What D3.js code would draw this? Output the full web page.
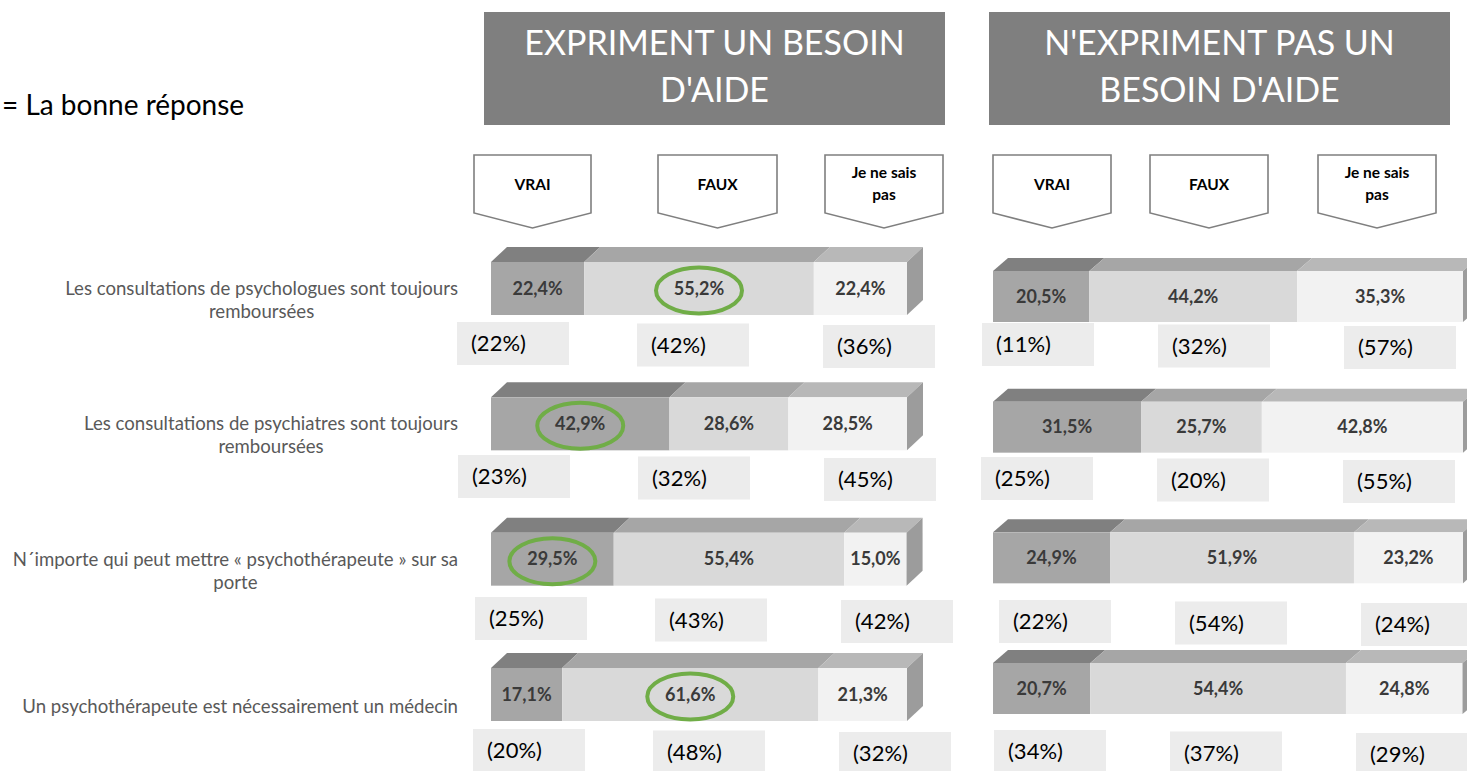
<!DOCTYPE html>
<html>
<head>
<meta charset="utf-8">
<script src="https://cdn.jsdelivr.net/npm/d3@7/dist/d3.min.js"></script>
<style>
  html, body { margin: 0; padding: 0; background: #ffffff; }
  svg { display: block; }
</style>
</head>
<body>
<svg id="chart" width="1467" height="771"></svg>
<script>
// ---- Data ----------------------------------------------------------------
const groups = [
  ["EXPRIMENT UN BESOIN", "D'AIDE"],
  ["N'EXPRIMENT PAS UN", "BESOIN D'AIDE"]
];
const answers = ["VRAI", "FAUX", "Je ne sais pas"];
const questions = [
  ["Les consultations de psychologues sont toujours", "remboursées"],
  ["Les consultations de psychiatres sont toujours", "remboursées"],
  ["N´importe qui peut mettre « psychothérapeute » sur sa", "porte"],
  ["Un psychothérapeute est nécessairement un médecin"]
];
// index into answers of the correct response for each statement
const correctAnswer = [1, 0, 0, 1];

// shares (%) among respondents who express a need for help
const withNeed = [
  [22.4, 55.2, 22.4],
  [42.9, 28.6, 28.5],
  [29.5, 55.4, 15.0],
  [17.1, 61.6, 21.3]
];
// shares (%) among respondents who do not express a need for help
const withoutNeed = [
  [20.5, 44.2, 35.3],
  [31.5, 25.7, 42.8],
  [24.9, 51.9, 23.2],
  [20.7, 54.4, 24.8]
];
// figures shown in brackets under each bar
const withNeedRef = [
  [22, 42, 36],
  [23, 32, 45],
  [25, 43, 42],
  [20, 48, 32]
];
const withoutNeedRef = [
  [11, 32, 57],
  [25, 20, 55],
  [22, 54, 24],
  [34, 37, 29]
];
const legendText = "= La bonne réponse";

// ---- Layout --------------------------------------------------------------
const FONT = "Lato, 'Open Sans', sans-serif";
const panels = [
  {
    values: withNeed, refs: withNeedRef, circled: true,
    header: [484, 12, 461, 113],
    arrows: [[474, 591], [658, 777], [825, 943]],
    barX: [491, 907], rowY: [262, 668], barH: 53, dx: 16, dy: 15,
    boxX: [457, 637, 823], boxShift: [0, 1, 18, 16], boxY: [322, 455, 597, 729]
  },
  {
    values: withoutNeed, refs: withoutNeedRef, circled: false,
    header: [989, 12, 461, 113],
    arrows: [[993, 1111], [1150, 1268], [1318, 1436]],
    barX: [993, 1463], rowY: [271, 663], barH: 51, dx: 15, dy: 13,
    boxX: [982, 1158, 1344], boxShift: [0, -1, 17, 12], boxY: [323, 457, 600, 730]
  }
];
const frontFill = ["#a6a6a6", "#d9d9d9", "#f2f2f2"];
const topFill = ["#808080", "#a6a6a6", "#b8b8b8"];
const sideFill = "#9c9c9c";
const fmt = v => d3.format(".1f")(v).replace(".", ",") + "%";

const svg = d3.select("#chart");

// legend
svg.append("text")
  .attr("x", 2).attr("y", 115)
  .attr("font-family", FONT).attr("font-size", 28)
  .attr("fill", "#000")
  .text(legendText);

// statement labels (right edge aligned, lines centred on the first line)
const labelY = d3.scaleLinear().domain([0, questions.length - 1]).range([262 + 26.5, 668 + 26.5]);
questions.forEach((lines, i) => {
  const g = svg.append("g");
  const lh = 23;
  const blockCenter = labelY(i) + 12;
  const firstBase = blockCenter - (lines.length - 1) * lh / 2 + 6;
  const t0 = g.append("text")
    .attr("x", 458).attr("y", firstBase)
    .attr("text-anchor", "end")
    .attr("font-family", FONT).attr("font-size", 18.6)
    .attr("fill", "#595959")
    .text(lines[0]);
  const w0 = t0.node().getComputedTextLength();
  const cx = 458 - w0 / 2;
  lines.slice(1).forEach((ln, k) => {
    g.append("text")
      .attr("x", cx).attr("y", firstBase + (k + 1) * lh)
      .attr("text-anchor", "middle")
      .attr("font-family", FONT).attr("font-size", 18.6)
      .attr("fill", "#595959")
      .text(ln);
  });
});

panels.forEach((p, pi) => {
  const g = svg.append("g");

  // group header
  const [hx, hy, hw, hh] = p.header;
  g.append("rect").attr("x", hx).attr("y", hy).attr("width", hw).attr("height", hh)
    .attr("fill", "#7f7f7f");
  groups[pi].forEach((ln, k) => {
    g.append("text")
      .attr("x", hx + hw / 2).attr("y", 55 + k * 47)
      .attr("text-anchor", "middle")
      .attr("font-family", FONT).attr("font-size", 34)
      .attr("fill", "#ffffff")
      .text(ln);
  });

  // answer arrows
  answers.forEach((a, j) => {
    const [l, r] = p.arrows[j];
    const m = (l + r) / 2;
    g.append("path")
      .attr("d", `M${l},155 L${r},155 L${r},213 L${m},228 L${l},213 Z`)
      .attr("fill", "#ffffff").attr("stroke", "#7f7f7f").attr("stroke-width", 1.6);
    const words = a === "Je ne sais pas" ? ["Je ne sais", "pas"] : [a];
    words.forEach((w, k) => {
      g.append("text")
        .attr("x", m).attr("y", words.length === 1 ? 190 : 178 + k * 22)
        .attr("text-anchor", "middle")
        .attr("font-family", FONT).attr("font-size", 15.5).attr("font-weight", "bold")
        .attr("fill", "#000")
        .text(w);
    });
  });

  // stacked 3D bars
  const x = d3.scaleLinear().domain([0, 100]).range(p.barX);
  const y = d3.scaleLinear().domain([0, questions.length - 1]).range(p.rowY);
  const { dx, dy, barH } = p;

  p.values.forEach((row, i) => {
    const top = y(i);
    const ends = Array.from(d3.cumsum(row));
    const starts = [0, ...ends.slice(0, -1)];
    const bg = g.append("g");
    row.forEach((v, j) => {
      const x0 = x(starts[j]), x1 = x(ends[j]);
      // top face
      bg.append("path")
        .attr("d", `M${x0},${top} L${x0 + dx},${top - dy} L${x1 + dx},${top - dy} L${x1},${top} Z`)
        .attr("fill", topFill[j]);
      // front face
      bg.append("rect")
        .attr("x", x0).attr("y", top).attr("width", x1 - x0).attr("height", barH)
        .attr("fill", frontFill[j]);
    });
    // right side face
    const xe = x(ends[ends.length - 1]);
    bg.append("path")
      .attr("d", `M${xe},${top} L${xe + dx},${top - dy} L${xe + dx},${top + barH - dy} L${xe},${top + barH} Z`)
      .attr("fill", sideFill);

    // value labels
    row.forEach((v, j) => {
      const cx = (x(starts[j]) + x(ends[j])) / 2;
      const cy = top + barH / 2;
      bg.append("text")
        .attr("x", cx).attr("y", cy + 6)
        .attr("text-anchor", "middle")
        .attr("font-family", FONT).attr("font-size", 18).attr("font-weight", "bold")
        .attr("fill", "#3a3a3a")
        .text(fmt(v));
      if (p.circled && correctAnswer[i] === j) {
        bg.append("ellipse")
          .attr("cx", cx).attr("cy", cy + 2)
          .attr("rx", 43).attr("ry", 23)
          .attr("fill", "none").attr("stroke", "#70ad47").attr("stroke-width", 4);
      }
    });

    // bracketed reference figures
    p.refs[i].forEach((v, j) => {
      const bx = p.boxX[j] + p.boxShift[i];
      const by = p.boxY[i] + j * 1.5;
      bg.append("rect")
        .attr("x", bx).attr("y", by).attr("width", 112).attr("height", 43)
        .attr("fill", "#ececec");
      bg.append("text")
        .attr("x", bx + 14).attr("y", by + 29)
        .attr("font-family", FONT).attr("font-size", 22)
        .attr("fill", "#000")
        .text(`(${v}%)`);
    });
  });
});
</script>
</body>
</html>
